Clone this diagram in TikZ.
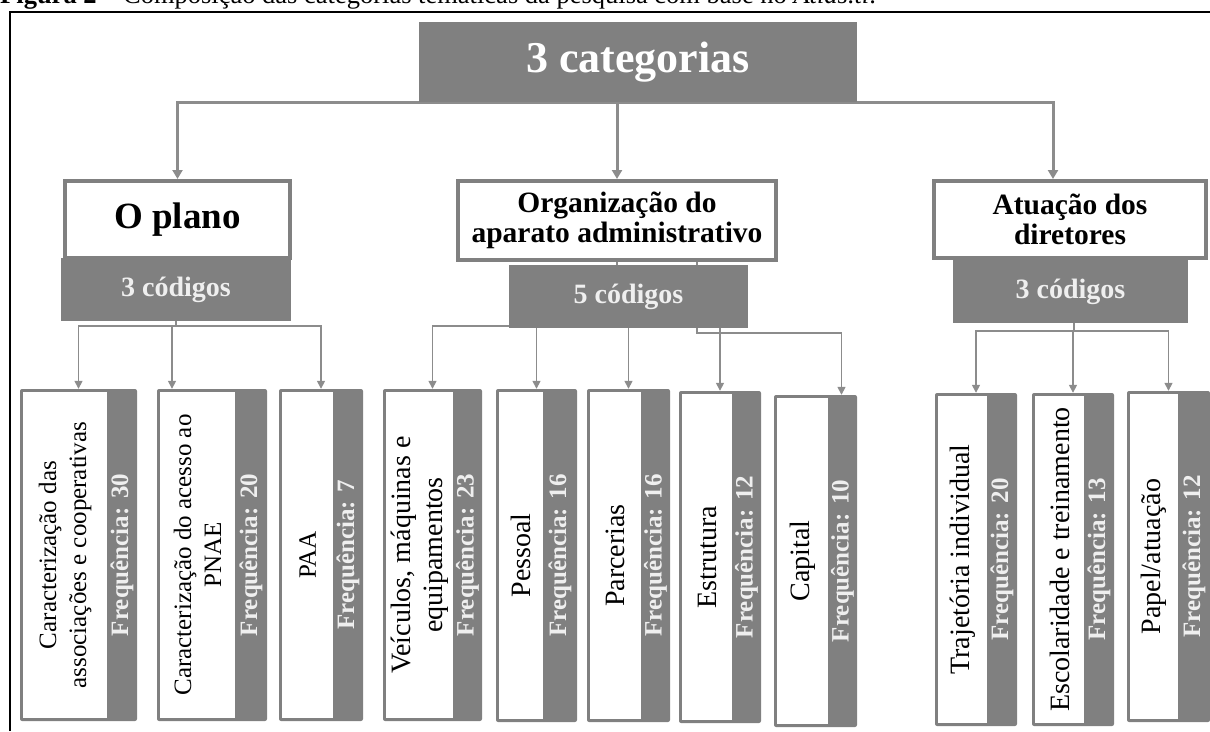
\documentclass[tikz,border=0pt]{standalone}
\usepackage{fontspec}
\setmainfont{Liberation Serif}
\usepackage{xcolor}
\usepackage{tikz}
\usetikzlibrary{arrows.meta,calc,backgrounds}
\definecolor{boxgray}{HTML}{808080}
\definecolor{linegray}{HTML}{8C8C8C}
\definecolor{soft}{HTML}{EFEFEF}
\tikzset{
  catbox/.style={fill=boxgray, text=white, inner sep=0pt, font=\bfseries\fontsize{44}{50}\selectfont},
  themebox/.style={draw=boxgray, line width=4pt, fill=white, inner sep=0pt, align=center, font=\bfseries\fontsize{29.5}{30}\selectfont},
  codebox/.style={fill=boxgray, text=soft, inner sep=0pt, font=\bfseries\fontsize{28}{32}\selectfont},
  leafframe/.style={fill=boxgray, rounded corners=2pt, inner sep=0pt},
  leaftext/.style={rotate=90, align=center, inner sep=0pt},
  freqtext/.style={rotate=90, text=soft, inner sep=0pt, font=\bfseries\fontsize{25}{28}\selectfont},
  link/.style={-{Triangle[width=10pt,length=9pt]}, line width=3pt, draw=linegray},
  sublink/.style={-{Triangle[width=8pt,length=8pt]}, line width=1.5pt, draw=linegray},
  stem/.style={line width=1.5pt, draw=linegray}
}
\newcommand{\PlaceBox}[7]{% name, style, left, top, right, bottom, text
  \node[#2, minimum width={(#5-#3)*1pt}, minimum height={(#6-#4)*1pt}] (#1) at ({(#3+#5)/2},{(#4+#6)/2}) {#7};
}
\newcommand{\Leaf}[9]{% name, left, right, strip, top, bottom, font, label, freq
  \node[leafframe, minimum width={(#3-#2)*1pt}, minimum height={(#6-#5)*1pt}] (#1) at ({(#2+#3)/2},{(#5+#6)/2}) {};
  \fill[white] (#2+3,#5+3) rectangle (#4,#6-3);
  \node[leaftext, font=#7] (#1-txt) at ({(#2+3+#4)/2},{(#5+#6)/2}) {#8};
  \node[freqtext] (#1-frq) at ({(#4+#3)/2},{(#5+#6)/2}) {Frequência: #9};
}

\begin{document}
\begin{tikzpicture}[x=1pt, y=-1pt]
  \useasboundingbox (0,0) rectangle (1210,731);
  \begin{scope}
    \clip (0,0) rectangle (1210,731);
    \node[anchor=base west, inner sep=0pt, font=\fontsize{26.5}{30}\selectfont] (caption) at (0,3.5)
      {\textbf{Figura 2} – Composição das categorias temáticas da pesquisa com base no \textit{Atlas.ti}.};
  \end{scope}
  \draw[line width=2.5pt] (10,731) -- (10,12) -- (1210,12);

  % categorias e temas
  \PlaceBox{cat}{catbox}{419}{22}{857}{102}{3 categorias}
  \PlaceBox{plano}{themebox, font=\bfseries\fontsize{37}{40}\selectfont}{65}{181}{290}{258}{O plano}
  \PlaceBox{cod1}{codebox}{61}{258}{291}{321}{3 códigos}
  \PlaceBox{org}{themebox}{458}{181}{776}{260}{Organização do\\aparato administrativo}
  \PlaceBox{cod2}{codebox}{509}{265}{748}{328}{5 códigos}
  \PlaceBox{atu}{themebox}{934}{181}{1206}{258}{Atuação dos\\diretores}
  \PlaceBox{cod3}{codebox}{953}{260}{1188}{323}{3 códigos}

  % codigos
  \Leaf{l11}{20}{137}{107}{389}{721}{\fontsize{25}{30}\selectfont}{Caracterização das\\associações e cooperativas}{30}
  \Leaf{l12}{157}{267}{235}{389}{721}{\fontsize{25}{30}\selectfont}{Caracterização do acesso ao\\PNAE}{20}
  \Leaf{l13}{279}{363}{333}{389}{721}{\fontsize{25}{30}\selectfont}{PAA}{7}
  \Leaf{l21}{383}{482}{453}{389}{721}{\fontsize{28}{32}\selectfont}{Veículos, máquinas e\\equipamentos}{23}
  \Leaf{l22}{496}{577}{543}{389}{722}{\fontsize{28}{32}\selectfont}{Pessoal}{16}
  \Leaf{l23}{587}{670}{641}{389}{722}{\fontsize{28}{32}\selectfont}{Parcerias}{16}
  \Leaf{l24}{679}{761}{732}{391}{723}{\fontsize{28}{32}\selectfont}{Estrutura}{12}
  \Leaf{l25}{774}{857}{828}{395}{727}{\fontsize{28}{32}\selectfont}{Capital}{10}
  \Leaf{l31}{935}{1017}{987}{393}{726}{\fontsize{28}{32}\selectfont}{Trajetória individual}{20}
  \Leaf{l32}{1032}{1114}{1084}{393}{726}{\fontsize{28}{32}\selectfont}{Escolaridade e treinamento}{13}
  \Leaf{l33}{1127}{1210}{1178}{391}{722}{\fontsize{28}{32}\selectfont}{Papel/atuação}{12}

  \begin{scope}[on background layer]
    \draw[link] (cat.south) -| (plano.north);
    \draw[link] (cat.south) -| (org.north);
    \draw[link] (cat.south) -| ([xshift=-17pt]atu.north);

    \draw[sublink] (cod1.south) -- ++(0,5) -| (l11.north);
    \draw[sublink] (cod1.south) -- ++(0,5) -| ([xshift=-40pt]l12.north);
    \draw[sublink] (cod1.south) -- ++(0,5) -| (l13.north);

    \draw[stem] (org.south) -- (org.south |- cod2.north);
    \draw[sublink] ([yshift=2pt]cod2.south west) -| (l21.north);
    \draw[sublink] (cod2.south -| l22.north) -- (l22.north);
    \draw[sublink] (cod2.south -| l23.north) -- (l23.north);
    \draw[sublink] (cod2.south -| l24.north) -- (l24.north);
    \draw[sublink] ([xshift=80pt]org.south) -- ++(0,71) -| ([xshift=26pt]l25.north);

    \draw[sublink] ([xshift=3.5pt]cod3.south) -- ++(0,8) -| (l31.north);
    \draw[sublink] ([xshift=3.5pt]cod3.south) -- ++(0,8) -| (l32.north);
    \draw[sublink] ([xshift=3.5pt]cod3.south) -- ++(0,8) -| (l33.north);
  \end{scope}
\end{tikzpicture}
\end{document}
